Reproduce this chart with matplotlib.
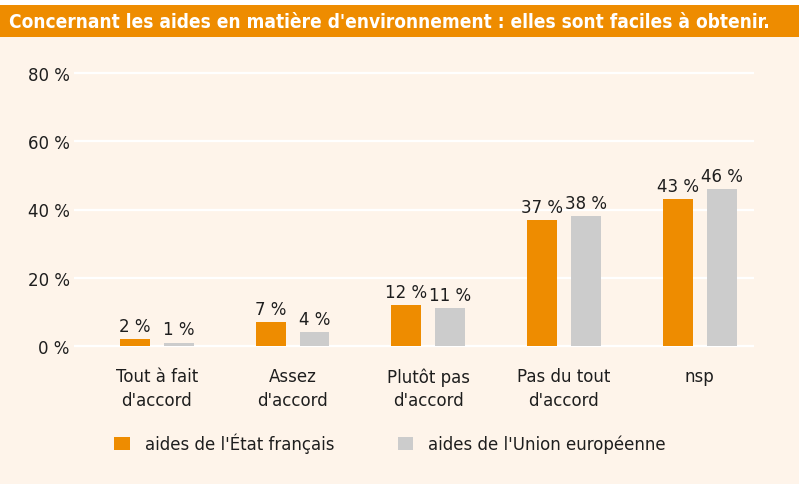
import numpy as np
import matplotlib
matplotlib.use("Agg")
import matplotlib.pyplot as plt
from matplotlib.patches import Rectangle

# data
categories = ["Tout à fait\nd'accord", "Assez\nd'accord", "Plutôt pas\nd'accord",
              "Pas du tout\nd'accord", "nsp"]
etat = [2, 7, 12, 37, 43]
union = [1, 4, 11, 38, 46]
yticks = [0, 20, 40, 60, 80]
series_names = ["aides de l'État français", "aides de l'Union européenne"]
title = "Concernant les aides en matière d'environnement : elles sont faciles à obtenir."

ORANGE = "#EE8C00"
GREY = "#CCCCCC"
CREAM = "#FEF4EA"
INK = "#1E1E1E"

W, H = 799, 485
plt.rcParams.update({"font.family": "DejaVu Sans", "font.size": 12})
fig = plt.figure(figsize=(W / 100, H / 100), dpi=100)
fig.patch.set_facecolor("white")

# cream body + orange title band
fig.add_artist(Rectangle((0, 0), 1, (H - 38) / H, transform=fig.transFigure,
                         facecolor=CREAM, edgecolor="none", zorder=-10))
fig.add_artist(Rectangle((0, (H - 38) / H), 1, 32 / H, transform=fig.transFigure,
                         facecolor=ORANGE, edgecolor="none", zorder=-10))
t = fig.text(9 / W, (H - 22) / H, title, color="white", fontsize=15, fontweight="bold",
             fontstretch="condensed", ha="left", va="center")
# fit title to the band width seen in the reference (~764 px)
r = fig.canvas.get_renderer()
tw = t.get_window_extent(r).width
t.set_fontsize(min(15, 15 * 764 / tw))

# axes: 0 at y=347px, 80 at y=74px; x from 74 to 754px
ppu = (347 - 74) / 80
ylo, yhi = -0.5, 80.5
bot = 347 + 0.5 * ppu
top = 74 - 0.5 * ppu
ax = fig.add_axes([74 / W, (H - bot) / H, 680 / W, (bot - top) / H])
ax.set_facecolor("none")

x = np.arange(len(categories))
bw, off = 30 / 136, 22 / 136
b1 = ax.bar(x - off, etat, bw, color=ORANGE, zorder=3, label=series_names[0])
b2 = ax.bar(x + off, union, bw, color=GREY, zorder=3, label=series_names[1])
for bars in (b1, b2):
    ax.bar_label(bars, labels=[f"{v:g} %" for v in bars.datavalues], padding=3,
                 color=INK, fontsize=12)

ax.set_ylim(ylo, yhi)
ax.set_xlim(-0.61, 4.40)
ax.set_yticks(yticks)
ax.set_yticklabels([f"{v} %" for v in yticks], color=INK)
ax.set_xticks(x)
ax.set_xticklabels(categories, color=INK, linespacing=1.4)
ax.tick_params(axis="both", length=0)
ax.tick_params(axis="y", pad=3)
ax.tick_params(axis="x", pad=14)
for s in ax.spines.values():
    s.set_visible(False)
for v in yticks:
    ax.axhline(v, color="white", lw=1.6, zorder=1)

fig.legend(handles=[b1, b2], labels=series_names, loc="center left",
           bbox_to_anchor=(114 / W, 41 / H), ncol=2, frameon=False,
           handlelength=0.95, handleheight=0.9, handletextpad=0.9,
           columnspacing=3.8, borderaxespad=0, borderpad=0, fontsize=12,
           labelcolor=INK)

fig.savefig("out.png", dpi=100, facecolor=fig.get_facecolor())
